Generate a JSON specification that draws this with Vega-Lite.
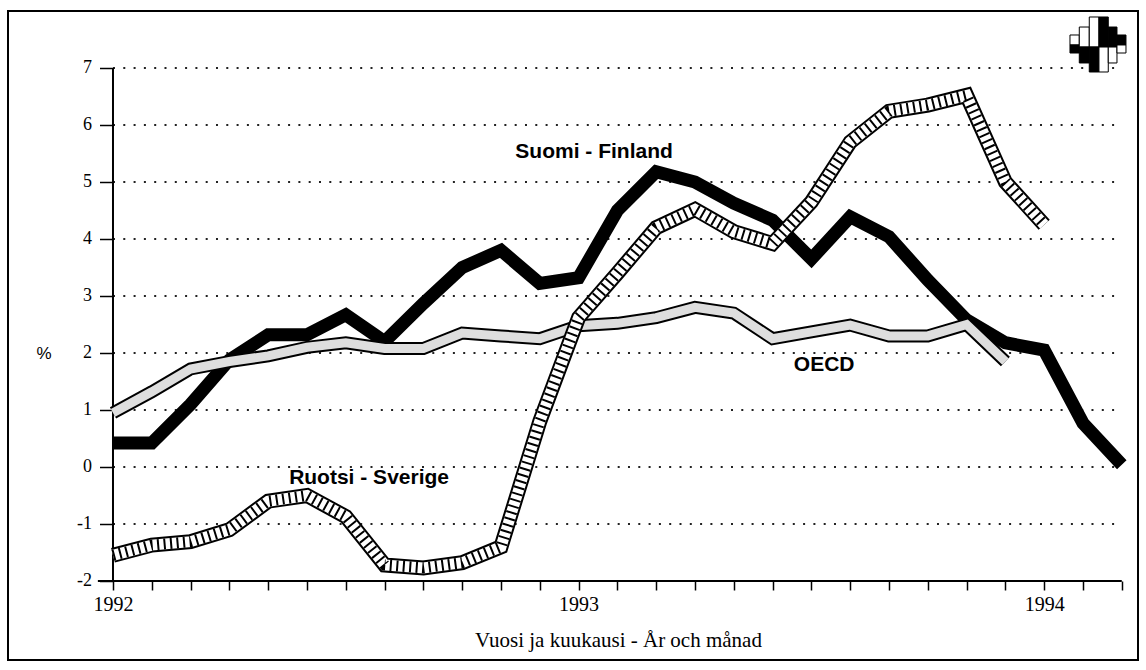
{
  "$schema": "https://vega.github.io/schema/vega-lite/v6.json",
  "width": 1130,
  "height": 649,
  "autosize": {"type": "none"},
  "padding": {"left": 8, "top": 11, "right": 8, "bottom": 10},
  "background": "white",
  "config": {
    "view": {"stroke": "black", "strokeWidth": 2},
    "axis": {"labelColor": "black", "tickColor": "black", "titleColor": "black", "domain": false, "grid": false}
  },
  "datasets": {
    "fin": [
      {"m": 0, "v": 0.42}, {"m": 1, "v": 0.42}, {"m": 2, "v": 1.1}, {"m": 3, "v": 1.88},
      {"m": 4, "v": 2.32}, {"m": 5, "v": 2.32}, {"m": 6, "v": 2.67}, {"m": 7, "v": 2.2},
      {"m": 8, "v": 2.87}, {"m": 9, "v": 3.5}, {"m": 10, "v": 3.8}, {"m": 11, "v": 3.22},
      {"m": 12, "v": 3.32}, {"m": 13, "v": 4.5}, {"m": 14, "v": 5.18}, {"m": 15, "v": 5.0},
      {"m": 16, "v": 4.63}, {"m": 17, "v": 4.33}, {"m": 18, "v": 3.65}, {"m": 19, "v": 4.39},
      {"m": 20, "v": 4.04}, {"m": 21, "v": 3.28}, {"m": 22, "v": 2.58}, {"m": 23, "v": 2.18},
      {"m": 24, "v": 2.05}, {"m": 25, "v": 0.77}, {"m": 26, "v": 0.04}
    ],
    "oecd": [
      {"m": 0, "v": 0.95}, {"m": 1, "v": 1.32}, {"m": 2, "v": 1.72}, {"m": 3, "v": 1.85},
      {"m": 4, "v": 1.95}, {"m": 5, "v": 2.1}, {"m": 6, "v": 2.18}, {"m": 7, "v": 2.08},
      {"m": 8, "v": 2.08}, {"m": 9, "v": 2.35}, {"m": 10, "v": 2.3}, {"m": 11, "v": 2.25},
      {"m": 12, "v": 2.48}, {"m": 13, "v": 2.52}, {"m": 14, "v": 2.62}, {"m": 15, "v": 2.8},
      {"m": 16, "v": 2.7}, {"m": 17, "v": 2.25}, {"m": 18, "v": 2.37}, {"m": 19, "v": 2.49},
      {"m": 20, "v": 2.3}, {"m": 21, "v": 2.3}, {"m": 22, "v": 2.5}, {"m": 23, "v": 1.85}
    ],
    "swe": [
      {"m": 0, "v": -1.55}, {"m": 1, "v": -1.37}, {"m": 2, "v": -1.31}, {"m": 3, "v": -1.1},
      {"m": 4, "v": -0.6}, {"m": 5, "v": -0.5}, {"m": 6, "v": -0.87}, {"m": 7, "v": -1.72},
      {"m": 8, "v": -1.77}, {"m": 9, "v": -1.68}, {"m": 10, "v": -1.4}, {"m": 11, "v": 0.8},
      {"m": 12, "v": 2.62}, {"m": 13, "v": 3.4}, {"m": 14, "v": 4.2}, {"m": 15, "v": 4.52},
      {"m": 16, "v": 4.13}, {"m": 17, "v": 3.92}, {"m": 18, "v": 4.65}, {"m": 19, "v": 5.7},
      {"m": 20, "v": 6.24}, {"m": 21, "v": 6.35}, {"m": 22, "v": 6.52}, {"m": 23, "v": 5.0},
      {"m": 24, "v": 4.25}
    ],
    "grid": [
      {"m": 0, "m2": 26, "v": 7}, {"m": 0, "m2": 26, "v": 6}, {"m": 0, "m2": 26, "v": 5},
      {"m": 0, "m2": 26, "v": 4}, {"m": 0, "m2": 26, "v": 3}, {"m": 0, "m2": 26, "v": 2},
      {"m": 0, "m2": 26, "v": 1}, {"m": 0, "m2": 26, "v": 0}, {"m": 0, "m2": 26, "v": -1}
    ],
    "axislines": [
      {"m": 0, "m2": 0, "v": -2, "v2": 7},
      {"m": -0.39, "m2": 26, "v": -2, "v2": -2}
    ],
    "labels": [
      {"m": 12.4, "v": 5.42, "t": "Suomi - Finland"},
      {"m": 6.6, "v": -0.29, "t": "Ruotsi - Sverige"},
      {"m": 18.33, "v": 1.69, "t": "OECD"}
    ],
    "logo": [
      {"m": 24.665, "m2": 24.905, "v": 7.579, "v2": 7.404, "c": "w"},
      {"m": 24.665, "m2": 24.905, "v": 7.404, "v2": 7.263, "c": "b"},
      {"m": 24.905, "m2": 25.162, "v": 7.719, "v2": 7.368, "c": "w"},
      {"m": 24.905, "m2": 25.162, "v": 7.368, "v2": 7.088, "c": "b"},
      {"m": 25.162, "m2": 25.412, "v": 7.895, "v2": 7.368, "c": "w"},
      {"m": 25.162, "m2": 25.412, "v": 7.368, "v2": 6.93, "c": "b"},
      {"m": 25.412, "m2": 25.652, "v": 7.895, "v2": 7.368, "c": "b"},
      {"m": 25.412, "m2": 25.652, "v": 7.368, "v2": 6.93, "c": "w"},
      {"m": 25.652, "m2": 25.876, "v": 7.719, "v2": 7.368, "c": "b"},
      {"m": 25.652, "m2": 25.876, "v": 7.368, "v2": 7.088, "c": "w"},
      {"m": 25.876, "m2": 26.108, "v": 7.579, "v2": 7.404, "c": "b"},
      {"m": 25.876, "m2": 26.108, "v": 7.404, "v2": 7.263, "c": "w"}
    ]
  },
  "encoding": {
    "x": {
      "field": "m", "type": "quantitative",
      "scale": {"domain": [-2.706, 26.418], "nice": false, "zero": false},
      "axis": {
        "values": [0,1,2,3,4,5,6,7,8,9,10,11,12,13,14,15,16,17,18,19,20,21,22,23,24,25,26],
        "offset": -79,
        "tickSize": 9, "tickWidth": 1.5,
        "labelExpr": "datum.value == 0 ? '1992' : datum.value == 12 ? '1993' : datum.value == 24 ? '1994' : ''",
        "labelFont": "Liberation Serif", "labelFontSize": 20, "labelPadding": 4,
        "labelFlush": false, "labelOverlap": false,
        "title": "Vuosi ja kuukausi - År och månad",
        "titleFont": "Liberation Serif", "titleFontSize": 21, "titleFontWeight": "normal",
        "titleX": 610, "titleY": 59, "titleAlign": "center", "titleBaseline": "middle"
      }
    },
    "y": {
      "field": "v", "type": "quantitative",
      "scale": {"domain": [-3.386, 8.0], "nice": false, "zero": false},
      "axis": {
        "values": [-2,-1,0,1,2,3,4,5,6,7],
        "offset": -105.5,
        "tickSize": 14, "tickWidth": 1.5,
        "labelExpr": "datum.value + ''",
        "labelFont": "Liberation Serif", "labelFontSize": 18, "labelPadding": 8,
        "title": "%", "titleAngle": 0,
        "titleFont": "Liberation Sans", "titleFontSize": 17, "titleFontWeight": "normal",
        "titleX": -70, "titleY": 342, "titleAlign": "center", "titleBaseline": "middle"
      }
    }
  },
  "layer": [
    {
      "data": {"name": "grid"},
      "mark": {"type": "rule", "color": "#222222", "strokeWidth": 2, "strokeDash": [2, 8.3]},
      "encoding": {"x2": {"field": "m2"}}
    },
    {
      "data": {"name": "axislines"},
      "mark": {"type": "rule", "color": "black", "strokeWidth": 2},
      "encoding": {"x2": {"field": "m2"}, "y2": {"field": "v2"}}
    },
    {
      "data": {"name": "fin"},
      "mark": {"type": "line", "color": "black", "strokeWidth": 13}
    },
    {
      "data": {"name": "oecd"},
      "mark": {"type": "line", "color": "black", "strokeWidth": 13}
    },
    {
      "data": {"name": "oecd"},
      "mark": {"type": "line", "color": "#dedede", "strokeWidth": 9}
    },
    {
      "data": {"name": "swe"},
      "mark": {"type": "line", "color": "black", "strokeWidth": 15}
    },
    {
      "data": {"name": "swe"},
      "mark": {"type": "line", "color": "white", "strokeWidth": 11}
    },
    {
      "data": {"name": "swe"},
      "mark": {"type": "line", "color": "black", "strokeWidth": 11, "strokeDash": [2, 4.5]}
    },
    {
      "data": {"name": "labels"},
      "mark": {"type": "text", "font": "Liberation Sans", "fontWeight": "bold", "fontSize": 21, "align": "center", "baseline": "alphabetic", "color": "black"},
      "encoding": {"text": {"field": "t"}}
    },
    {
      "data": {"name": "logo"},
      "mark": {"type": "rect", "stroke": "black", "strokeWidth": 1},
      "encoding": {
        "x2": {"field": "m2"},
        "y2": {"field": "v2"},
        "fill": {"field": "c", "type": "nominal", "scale": {"domain": ["b", "w"], "range": ["black", "white"]}, "legend": null}
      }
    }
  ]
}
